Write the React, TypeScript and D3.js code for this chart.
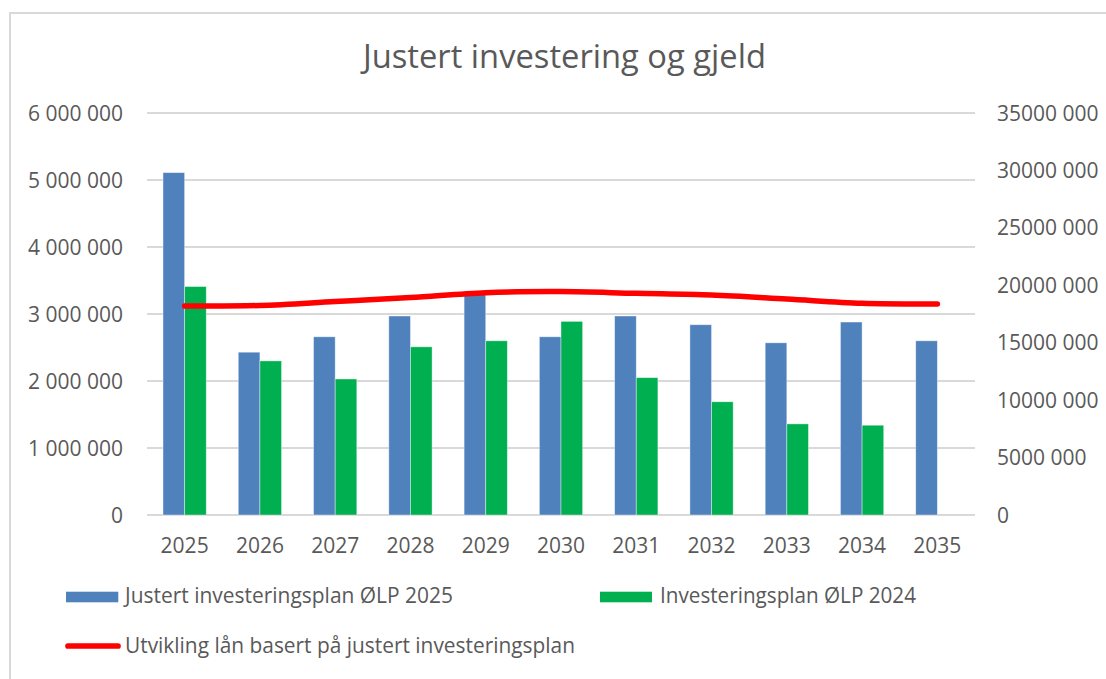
import React from "react";
import * as d3 from "d3";

const years = ["2025","2026","2027","2028","2029","2030","2031","2032","2033","2034","2035"];
const justert = [5110000, 2430000, 2660000, 2970000, 3300000, 2660000, 2970000, 2840000, 2570000, 2880000, 2600000];
const plan2024: (number | null)[] = [3410000, 2300000, 2030000, 2510000, 2600000, 2890000, 2050000, 1690000, 1360000, 1340000, null];
const laan = [18200000, 18240000, 18580000, 18930000, 19360000, 19450000, 19300000, 19150000, 18800000, 18430000, 18370000];
const leftTicks = [0, 1000000, 2000000, 3000000, 4000000, 5000000, 6000000];
const leftTickLabels = ["0", "1 000 000", "2 000 000", "3 000 000", "4 000 000", "5 000 000", "6 000 000"];
const rightTicks = [0, 5000000, 10000000, 15000000, 20000000, 25000000, 30000000, 35000000];
const rightTickLabels = ["0", "5000 000", "10000 000", "15000 000", "20000 000", "25000 000", "30000 000", "35000 000"];
const title = "Justert investering og gjeld";
const seriesNames = ["Justert investeringsplan ØLP 2025", "Investeringsplan ØLP 2024", "Utvikling lån basert på justert investeringsplan"];

const W = 1106, H = 679;
const plot = { left: 147, right: 975, top: 113, bottom: 515 };
const FONT = "'Open Sans', Calibri, sans-serif";
const TXT = "#595959";
const BLUE = "#4f81bd";
const GREEN = "#00b050";
const RED = "#ff0000";
const GRID = "#d9d9d9";

export default function App() {
  const x0 = d3.scaleBand<string>().domain(years).range([plot.left, plot.right]).paddingInner(0).paddingOuter(0);
  const x1 = d3.scaleBand<string>().domain(["a", "b"]).range([0, x0.bandwidth()]).paddingInner(0).paddingOuter(0.74);
  const yL = d3.scaleLinear().domain([0, 6000000]).range([plot.bottom, plot.top]);
  const yR = d3.scaleLinear().domain([0, 35000000]).range([plot.bottom, plot.top]);
  const line = d3.line<number>()
    .x((_, i) => (x0(years[i]) as number) + x0.bandwidth() / 2)
    .y((d) => yR(d))
    .curve(d3.curveCatmullRom.alpha(0.5));

  return (
    <svg width={W} height={H} style={{ position: "absolute", left: 0, top: 0, background: "#fff" }} fontFamily={FONT}>
      <rect x={0} y={0} width={W} height={H} fill="#fff" />
      <rect x={10} y={13} width={1200} height={800} fill="#fff" stroke={GRID} strokeWidth={2} />
      <text x={564.4} y={68.3} textAnchor="middle" fontSize={32} fill={TXT} textLength={403} lengthAdjust="spacingAndGlyphs">{title}</text>

      {leftTicks.map((t) => (
        <line key={"g" + t} x1={plot.left} x2={plot.right} y1={yL(t)} y2={yL(t)} stroke={GRID} strokeWidth={2} />
      ))}
      {leftTicks.map((t, i) => (
        <text key={"l" + t} x={123} y={yL(t) + 7.5} textAnchor="end" fontSize={21} fill={TXT}>{leftTickLabels[i]}</text>
      ))}
      {rightTicks.map((t, i) => (
        <text key={"r" + t} x={997} y={yR(t) + 7.5} textAnchor="start" fontSize={21} fill={TXT}>{rightTickLabels[i]}</text>
      ))}

      {years.map((yr, i) => {
        const bx = x0(yr) as number;
        const bw = x1.bandwidth();
        const g = plan2024[i];
        return (
          <g key={yr}>
            <rect x={bx + (x1("a") as number)} y={yL(justert[i])} width={bw} height={yL(0) - yL(justert[i])} fill={BLUE} stroke="#fff" strokeOpacity={0.5} strokeWidth={0.8} />
            {g !== null && (
              <rect x={bx + (x1("b") as number)} y={yL(g)} width={bw} height={yL(0) - yL(g)} fill={GREEN} stroke="#fff" strokeOpacity={0.5} strokeWidth={0.8} />
            )}
            <text x={bx + x0.bandwidth() / 2} y={553.3} textAnchor="middle" fontSize={21} fill={TXT}>{yr}</text>
          </g>
        );
      })}

      <path d={line(laan) || ""} fill="none" stroke={RED} strokeWidth={5.5} strokeLinecap="round" strokeLinejoin="round" />

      <rect x={66} y={591.7} width={52.3} height={10.6} fill={BLUE} />
      <text x={125} y={603.3} fontSize={21} fill={TXT} textLength={328} lengthAdjust="spacingAndGlyphs">{seriesNames[0]}</text>
      <rect x={600} y={591.7} width={52} height={10.6} fill={GREEN} />
      <text x={660} y={603.3} fontSize={21} fill={TXT} textLength={256} lengthAdjust="spacingAndGlyphs">{seriesNames[1]}</text>
      <line x1={68} x2={118} y1={646} y2={646} stroke={RED} strokeWidth={5.7} strokeLinecap="round" />
      <text x={125} y={653.3} fontSize={21} fill={TXT} textLength={450} lengthAdjust="spacingAndGlyphs">{seriesNames[2]}</text>
    </svg>
  );
}
